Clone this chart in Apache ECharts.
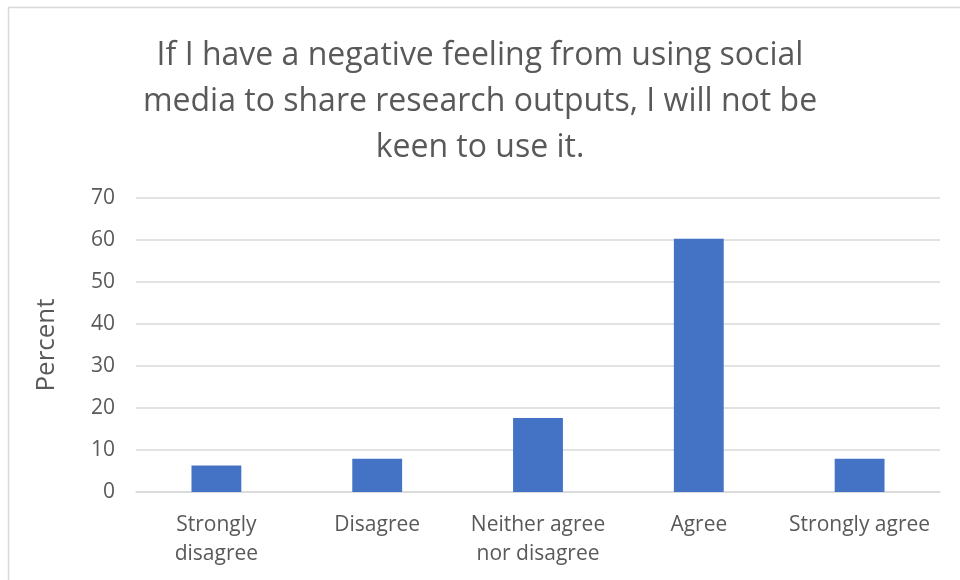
<!DOCTYPE html>
<html>
<head>
<meta charset="utf-8">
<script src="https://cdn.jsdelivr.net/npm/echarts@6/dist/echarts.min.js"></script>
<style>
    html, body { margin: 0; padding: 0; background: #ffffff; }
    #chart { width: 960px; height: 580px; }
</style>
</head>
<body>
<div id="chart"></div>
<script>
const chartTitle = "If I have a negative feeling from using social\nmedia to share research outputs, I will not be\nkeen to use it."
const categories = ["Strongly\ndisagree", "Disagree", "Neither agree\nnor disagree", "Agree", "Strongly agree"]
const percentValues = [6.3, 7.9, 17.6, 60.3, 7.9]
const yTicks = [0, 70, 10]

const textGray = "#595959"
const fontName = "'Open Sans', 'Noto Sans', sans-serif"

let chartDom = document.getElementById('chart')
let myChart = echarts.init(chartDom, null, {renderer: 'canvas'})

let option = {
    backgroundColor: '#ffffff',
    animation: false,
    graphic: [{
        type: 'rect',
        shape: {x: 8.5, y: 7.5, width: 1000, height: 700},
        style: {fill: 'none', stroke: '#d9d9d9', lineWidth: 1.5},
        silent: true
    }],
    title: {
        text: chartTitle,
        left: 'center',
        top: 28,
        textStyle: {
            color: textGray,
            fontFamily: fontName,
            fontWeight: 'normal',
            fontSize: 32,
            lineHeight: 46
        }
    },
    grid: {left: 136, right: 20, top: 198, bottom: 88},
    xAxis: {
        type: 'category',
        data: categories,
        axisLine: {lineStyle: {color: '#d9d9d9', width: 1.5}},
        axisTick: {show: false},
        axisLabel: {
            interval: 0,
            hideOverlap: false,
            color: textGray,
            fontFamily: fontName,
            fontSize: 21,
            lineHeight: 29,
            margin: 19
        }
    },
    yAxis: {
        type: 'value',
        min: yTicks[0],
        max: yTicks[1],
        interval: yTicks[2],
        name: 'Percent',
        nameLocation: 'middle',
        nameGap: 76,
        nameTextStyle: {
            color: textGray,
            fontFamily: fontName,
            fontSize: 26
        },
        axisLine: {show: false},
        axisTick: {show: false},
        axisLabel: {
            color: textGray,
            fontFamily: fontName,
            fontSize: 21,
            margin: 21
        },
        splitLine: {lineStyle: {color: '#d9d9d9', width: 1.5}}
    },
    series: [{
        type: 'bar',
        data: percentValues,
        barWidth: '31%',
        itemStyle: {color: '#4472c4'}
    }]
}

myChart.setOption(option)

window.addEventListener('resize', () => {
    myChart.resize()
})
</script>
</body>
</html>
